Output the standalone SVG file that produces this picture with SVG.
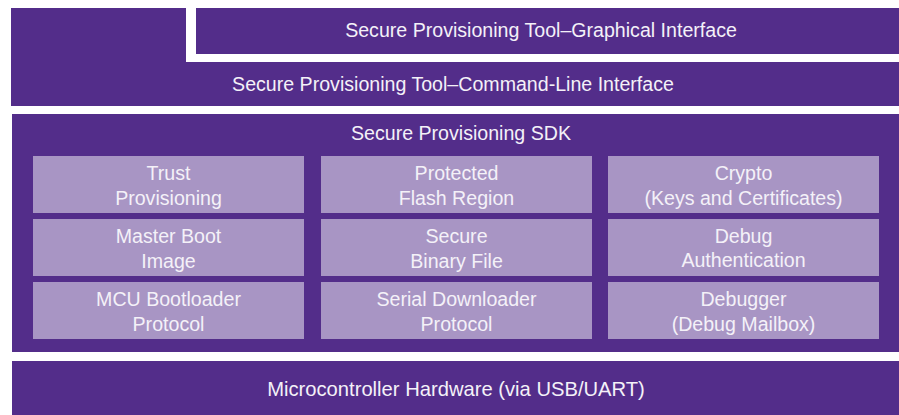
<svg xmlns="http://www.w3.org/2000/svg" width="899" height="415" viewBox="0 0 899 415">
<style>
.dark{fill:#532D8A}
.light{fill:#A895C4}
text{font-family:"Liberation Sans",Arial,sans-serif;font-size:19.6px;fill:#F4F1F8;text-anchor:middle}
</style>
<rect width="899" height="415" fill="#FFFFFF"/>
<g id="cli">
<rect class="dark" x="11" y="8" width="888" height="98"/>
<rect x="186" y="0" width="713" height="62" fill="#FFFFFF"/>
<text x="453" y="91">Secure Provisioning Tool–Command-Line Interface</text>
</g>
<g id="gui">
<rect class="dark" x="196" y="8" width="703" height="46"/>
<text x="541" y="37">Secure Provisioning Tool–Graphical Interface</text>
</g>
<g id="sdk">
<rect class="dark" x="12" y="114" width="887" height="238"/>
<text x="461" y="140">Secure Provisioning SDK</text>
</g>
<g id="trust"><rect class="light" x="33" y="156" width="271" height="57"/><text x="168.5" y="180">Trust</text><text x="168.5" y="205">Provisioning</text></g>
<g id="pfr"><rect class="light" x="321" y="156" width="271" height="57"/><text x="456.5" y="180">Protected</text><text x="456.5" y="205">Flash Region</text></g>
<g id="crypto"><rect class="light" x="608" y="156" width="271" height="57"/><text x="743.5" y="180">Crypto</text><text x="743.5" y="205">(Keys and Certificates)</text></g>
<g id="mbi"><rect class="light" x="33" y="219" width="271" height="57"/><text x="168.5" y="243">Master Boot</text><text x="168.5" y="268">Image</text></g>
<g id="sb"><rect class="light" x="321" y="219" width="271" height="57"/><text x="456.5" y="243">Secure</text><text x="456.5" y="268">Binary File</text></g>
<g id="dauth"><rect class="light" x="608" y="219" width="271" height="57"/><text x="743.5" y="243">Debug</text><text x="743.5" y="267">Authentication</text></g>
<g id="mcuboot"><rect class="light" x="33" y="282" width="271" height="57"/><text x="168.5" y="306">MCU Bootloader</text><text x="168.5" y="331">Protocol</text></g>
<g id="sdp"><rect class="light" x="321" y="282" width="271" height="57"/><text x="456.5" y="306">Serial Downloader</text><text x="456.5" y="331">Protocol</text></g>
<g id="debugger"><rect class="light" x="608" y="282" width="271" height="57"/><text x="743.5" y="306">Debugger</text><text x="743.5" y="331">(Debug Mailbox)</text></g>
<g id="hw">
<rect class="dark" x="12" y="361" width="887" height="54"/>
<text x="456" y="396" style="font-size:20.2px">Microcontroller Hardware (via USB/UART)</text>
</g>
<g id="connectors"></g>
</svg>
